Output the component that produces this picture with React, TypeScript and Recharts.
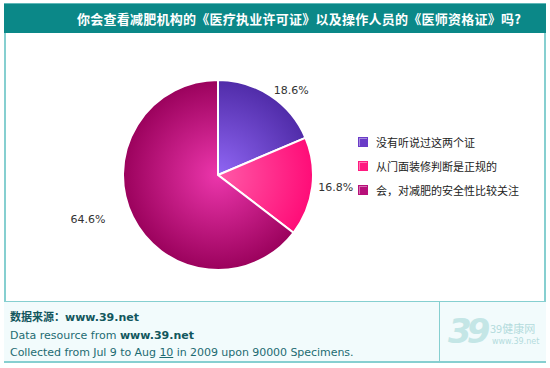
import { PieChart, Pie, Cell, Legend } from "recharts";

const CATEGORIES = ["没有听说过这两个证", "从门面装修判断是正规的", "会，对减肥的安全性比较关注"];
const VALUES = [18.6, 16.8, 64.6];
const TITLE = "你会查看减肥机构的《医疗执业许可证》以及操作人员的《医师资格证》吗?";

const SWATCH = ["#6a3cc8", "#ff1a80", "#b8107a"];
const GRADIENTS = [
  ["#9066f4", "#4e2aa6"],
  ["#ff5aa8", "#ff0a76"],
  ["#ec36ac", "#98005a"],
];

const data = CATEGORIES.map((name, i) => ({ name, value: VALUES[i] }));

const RAD = Math.PI / 180;

function renderLabel(props: any) {
  const { cx, cy, midAngle, outerRadius, value } = props;
  const cos = Math.cos(-midAngle * RAD);
  const sin = Math.sin(-midAngle * RAD);
  const r = outerRadius + 6;
  const left = cos < 0;
  const x = cx + r * cos + (left ? -22 : 0);
  const y = cy + r * sin;
  return (
    <text
      x={x}
      y={y}
      fill="#333"
      fontSize={11}
      fontFamily="DejaVu Sans"
      textAnchor={left ? "end" : "start"}
      dominantBaseline="central"
    >
      {value.toFixed(1)}%
    </text>
  );
}

// legend drawn in data order (recharts would otherwise sort it)
function LegendList() {
  return (
    <div>
      {CATEGORIES.map((name, i) => (
        <div
          key={i}
          style={{ display: "flex", alignItems: "center", height: 24, fontSize: 11, color: "#222", fontFamily: "'Noto Sans CJK SC', sans-serif" }}
        >
          <span
            style={{
              display: "inline-block",
              width: 8,
              height: 8,
              marginRight: 8,
              background: SWATCH[i],
              border: "1px solid " + SWATCH[i],
              boxShadow: "inset 1px 1px 0 rgba(255,255,255,0.4)",
            }}
          />
          {name}
        </div>
      ))}
    </div>
  );
}

const border = "#86cfd0";
const footText = "#1d6b72";

export default function App() {
  return (
    <div style={{ position: "absolute", left: 0, top: 0, width: 550, height: 368, background: "#fff", overflow: "hidden" }}>
      {/* frame */}
      <div style={{ position: "absolute", left: 4, top: 3, width: 538, height: 358, border: "2px solid " + border, borderTop: "none" }} />
      {/* header */}
      <div
        style={{
          position: "absolute",
          left: 4,
          top: 3,
          width: 542,
          height: 30,
          background: "#0b8888",
          borderTop: "1px solid #5fb8b8",
          color: "#fff",
          fontWeight: "bold",
          fontSize: 13,
          letterSpacing: 0.25,
          fontFamily: "'Noto Sans CJK SC', sans-serif",
          lineHeight: "30px",
          boxSizing: "border-box",
          paddingLeft: 73,
          whiteSpace: "nowrap",
        }}
      >
        {TITLE}
      </div>
      {/* footer */}
      <div
        style={{
          position: "absolute",
          left: 4,
          top: 301,
          width: 542,
          height: 62,
          background: "#f2fbfc",
          borderTop: "1px solid " + border,
          borderBottom: "2px solid " + border,
          boxSizing: "border-box",
        }}
      />
      <div style={{ position: "absolute", left: 439, top: 301, width: 1, height: 62, background: border }} />
      <div style={{ position: "absolute", left: 10, top: 307, fontFamily: "DejaVu Sans", fontSize: 11, color: footText, lineHeight: "18px", whiteSpace: "nowrap" }}>
        <div style={{ fontWeight: "bold", color: "#12575e" }}>
          <span style={{ fontFamily: "'Noto Sans CJK SC'" }}>数据来源：</span>www.39.net
        </div>
        <div>
          Data resource from <b style={{ color: "#12575e" }}>www.39.net</b>
        </div>
        <div style={{ marginTop: -1, letterSpacing: -0.05 }}>
          Collected from Jul 9 to Aug <span style={{ textDecoration: "underline" }}>10</span> in 2009 upon 90000 Specimens.
        </div>
      </div>
      {/* logo */}
      <div style={{ position: "absolute", left: 448, top: 309, color: "#c4e6e6", fontFamily: "DejaVu Sans", fontStyle: "italic", fontWeight: "bold", fontSize: 34, lineHeight: "44px", letterSpacing: -5 }}>
        39
      </div>
      <div style={{ position: "absolute", left: 490, top: 322, color: "#b4dcdc", fontFamily: "'Noto Sans CJK SC'", fontSize: 11, lineHeight: "13px" }}>
        39健康网
        <div style={{ fontFamily: "DejaVu Sans", fontSize: 8, marginLeft: 2 }}>www.39.net</div>
      </div>

      <div style={{ position: "absolute", left: 0, top: 0 }}>
        <PieChart width={550} height={300} margin={{ top: 0, right: 0, bottom: 0, left: 0 }}>
          <defs>
            {GRADIENTS.map((g, i) => (
              <radialGradient key={i} id={"slice" + i} gradientUnits="userSpaceOnUse" cx={218} cy={175} r={98}>
                <stop offset="0%" stopColor={g[0]} />
                <stop offset="100%" stopColor={g[1]} />
              </radialGradient>
            ))}
          </defs>
          <Pie
            data={data}
            dataKey="value"
            nameKey="name"
            cx={218}
            cy={175}
            outerRadius={95}
            startAngle={90}
            endAngle={-270}
            stroke="#fff"
            strokeWidth={2}
            label={renderLabel}
            labelLine={false}
            isAnimationActive={false}
          >
            {data.map((_, i) => (
              <Cell key={i} fill={`url(#slice${i})`} />
            ))}
          </Pie>
          <Legend
            layout="vertical"
            content={<LegendList />}
            wrapperStyle={{ left: 358, top: 130, width: 180 }}
          />
        </PieChart>
      </div>
    </div>
  );
}
